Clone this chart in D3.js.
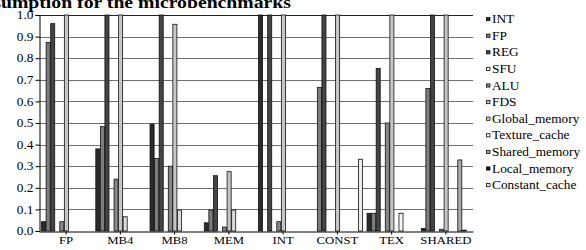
<!DOCTYPE html>
<html><head><meta charset="utf-8">
<script src="https://cdn.jsdelivr.net/npm/d3@7"></script>
<style>body{margin:0;background:#fff}svg{display:block}svg text{font-family:"Liberation Serif","DejaVu Serif",serif}</style>
</head><body>
<svg id="c" width="586" height="250"></svg>
<script>
const categories = ["FP","MB4","MB8","MEM","INT","CONST","TEX","SHARED"];
const seriesNames = ["INT","FP","REG","SFU","ALU","FDS","Global_memory","Texture_cache","Shared_memory","Local_memory","Constant_cache"];
const seriesColors = ["#2a2a2a","#7c7c7c","#444444","#f2f2f2","#888888","#c6c6c6","#dadada","#f6f6f6","#a9a9a9","#151515","#ececec"];
// values[category][series]
const vFP     = [0.043,0.873,0.96,0,0.043,1.0,0,0,0,0,0];
const vMB4    = [0.38,0.483,1.0,0,0.24,1.0,0.066,0,0,0,0];
const vMB8    = [0.495,0.336,1.0,0,0.30,0.957,0.097,0,0,0,0];
const vMEM    = [0.038,0.097,0.256,0,0.018,0.275,0.097,0,0,0,0];
const vINT    = [1.0,0,1.0,0,0.043,1.0,0,0,0,0,0];
const vCONST  = [0,0.665,1.0,0,0,1.0,0,0,0,0,0.332];
const vTEX    = [0.082,0.082,0.753,0,0.50,1.0,0,0.082,0,0,0];
const vSHARED = [0.012,0.66,1.0,0,0.008,1.0,0,0,0.329,0.004,0];
const values = [vFP,vMB4,vMB8,vMEM,vINT,vCONST,vTEX,vSHARED];
const yTicks = [0,0.1,0.2,0.3,0.4,0.5,0.6,0.7,0.8,0.9,1.0];
const title = "Power consumption for the microbenchmarks";

const svg = d3.select("#c");
const L=39, R=473, T=15, B=231;
const font = "\"Liberation Serif\", \"DejaVu Serif\", serif";
const SX = 1.16; // horizontal stretch of text in the reference

function stretch(sel){
  sel.each(function(){
    const ax = +(this.getAttribute("x")||0);
    this.setAttribute("transform",`translate(${ax},0) scale(${SX},1) translate(${-ax},0)`);
  });
}

const x0 = d3.scaleBand().domain(categories).range([L,R]).paddingInner(0).paddingOuter(0);
const x1 = d3.scaleBand().domain(seriesNames).range([0,x0.bandwidth()]).paddingInner(0).paddingOuter(0.45);
const y = d3.scaleLinear().domain([0,1]).range([B,T]);
const color = d3.scaleOrdinal().domain(seriesNames).range(seriesColors);

// title
svg.append("text").attr("x",291).attr("y",8).attr("text-anchor","end")
  .attr("font-family",font).attr("font-weight","bold").attr("font-size",17).text(title).call(stretch);

// gridlines
svg.append("g").selectAll("line").data(yTicks.slice(1)).join("line")
  .attr("x1",L).attr("x2",R).attr("y1",d=>Math.round(y(d))+0.5).attr("y2",d=>Math.round(y(d))+0.5)
  .attr("stroke",d=>d===1?"#222":"#707070").attr("stroke-width",1);

// bars
const g = svg.append("g");
categories.forEach((c,ci)=>{
  seriesNames.forEach((s,si)=>{
    const v = values[ci][si];
    const x = x0(c)+x1(s);
    const yt = y(v);
    g.append("rect").attr("x",x+0.5).attr("y",yt).attr("width",x1.bandwidth()-0.5)
      .attr("height",Math.max(0,B-yt)).attr("fill",color(s)).attr("stroke","#111").attr("stroke-width",0.8);
  });
});

// y axis
const ya = svg.append("g").attr("transform",`translate(${L+0.5},0)`)
  .call(d3.axisLeft(y).tickValues(yTicks).tickFormat(d3.format(".1f")).tickSize(4).tickPadding(2));
ya.attr("font-family",font);
ya.selectAll("text").attr("font-family",font).attr("font-size",11.5).attr("fill","#000").call(stretch);
ya.selectAll("line,path").attr("stroke","#000");

// x axis
const xa = svg.append("g").attr("transform",`translate(0,${B+0.5})`)
  .call(d3.axisBottom(x0).tickSize(3).tickPadding(2).tickSizeOuter(0));
xa.attr("font-family",font);
xa.selectAll("text").attr("font-family",font).attr("font-size",11).attr("fill","#000").call(stretch);
xa.selectAll("line,path").attr("stroke","#000");

// legend
const lg = svg.append("g");
seriesNames.forEach((s,i)=>{
  const cy = 19.3 + i*16.6;
  lg.append("rect").attr("x",486.5).attr("y",cy-1.8).attr("width",3.5).attr("height",3.2)
    .attr("fill",color(s)).attr("stroke","#111").attr("stroke-width",0.8);
  lg.append("text").attr("x",492).attr("y",cy+3.9).attr("font-family",font).attr("font-size",11.5).text(s).call(stretch);
});
</script>
</body></html>
